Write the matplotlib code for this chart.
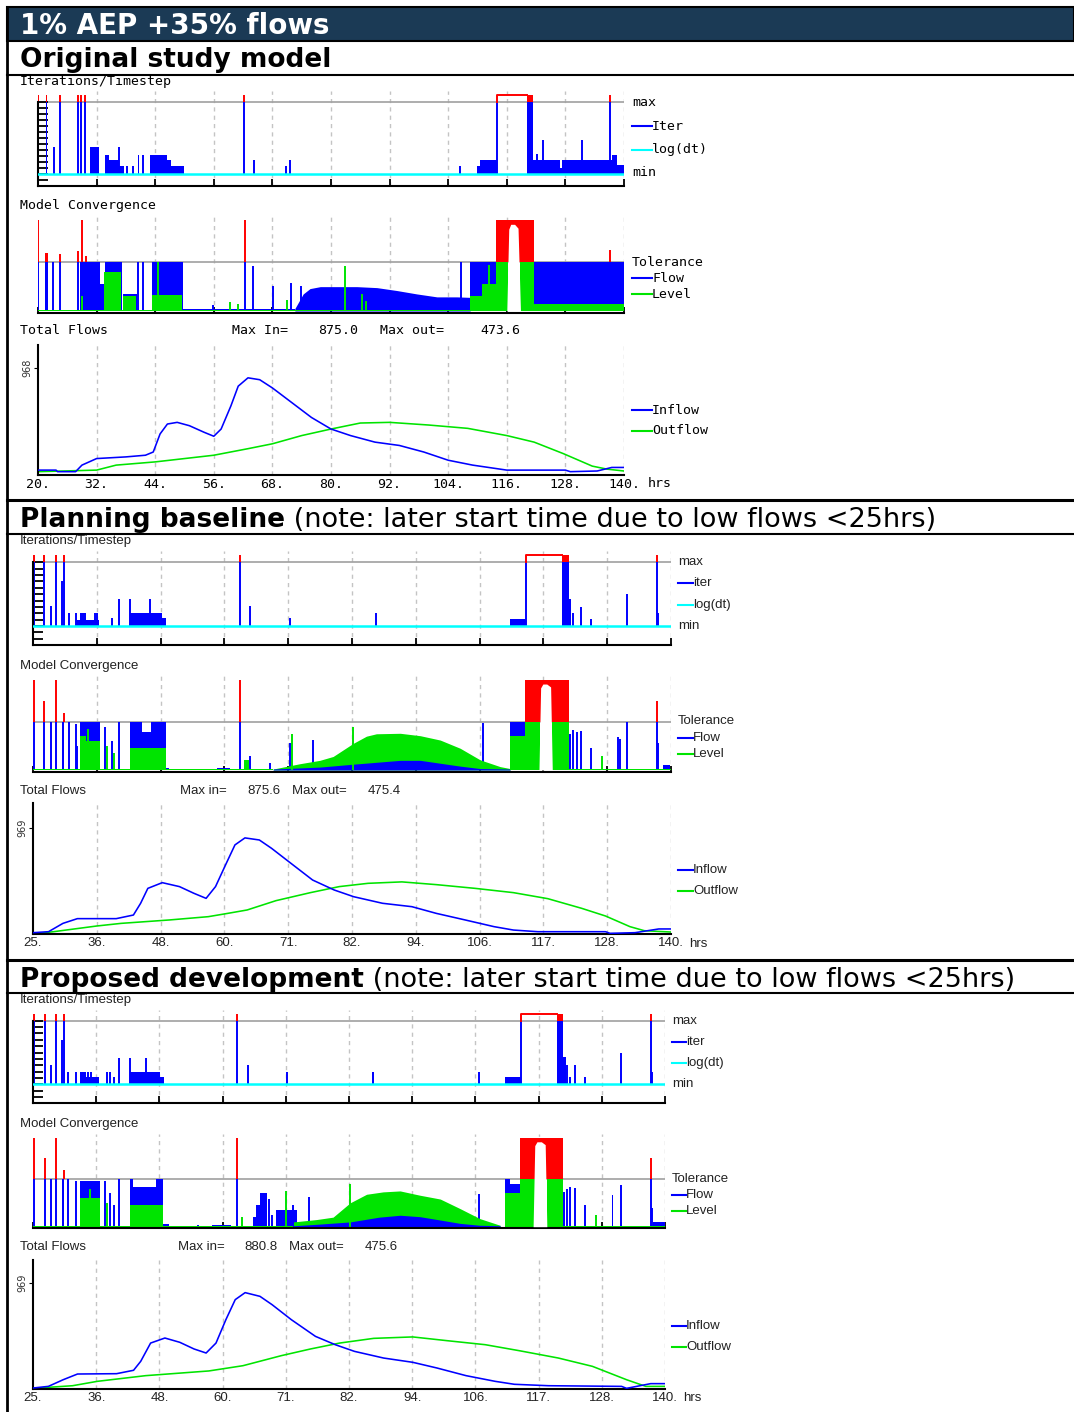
import numpy as np
import matplotlib.pyplot as plt
from matplotlib.lines import Line2D
from matplotlib.patches import Rectangle

W, H = 1074, 1412

BLUE = '#0000ff'
GREEN = '#00e400'
RED = '#ff0000'
CYAN = '#00ffff'
NAVY = '#1b3a55'
GRID = '#c4c4c4'
TOL = '#a0a0a0'

### Section 1 : original study model (hours 20-140)
s1_ticks = [20, 32, 44, 56, 68, 80, 92, 104, 116, 128, 140]
s1_labels = ['20.', '32.', '44.', '56.', '68.', '80.', '92.', '104.', '116.', '128.', '140.']
s1_max_in, s1_max_out, s1_ref = '875.0', '473.6', 968

s1_in_t = [20, 23.7, 24, 27.7, 29, 32, 38, 42, 43.6, 45, 46.5, 48.5, 51, 54, 56, 57.5, 59.5, 61, 63, 65.4,
           68, 72, 76, 80, 84, 89, 94, 99, 104, 109, 116, 128, 129, 134.5, 137.5, 140]
s1_in_v = [44, 44, 30, 30, 89, 148, 163, 178, 207, 370, 459, 474, 444, 385, 349, 414, 622, 800, 875, 858,
           784, 651, 518, 414, 355, 296, 266, 207, 133, 89, 44, 44, 30, 36, 68, 68]
s1_out_t = [20, 32, 36, 44, 56, 63, 68, 74, 80, 86, 92, 100, 108, 116, 121.6, 127.6, 133.5, 136.5, 140]
s1_out_v = [30, 44, 89, 118, 178, 237, 281, 355, 414, 468, 474, 450, 420, 355, 296, 192, 80, 53, 36]

# iterations: (start hr, end hr, fraction between min and max)
s1_iter_blue = [(20.0, 20.0, 1), (21.6, 21.9, 1), (23.3, 23.3, 0.38), (24.6, 24.6, 1), (28.2, 28.2, 1),
                (28.9, 28.9, 1), (29.7, 29.7, 1), (30.7, 32.5, 0.38), (33.7, 34.6, 0.27), (34.6, 36.5, 0.2),
                (36.5, 36.5, 0.38), (36.5, 37.6, 0.11), (38.3, 38.3, 0.11), (39.4, 39.4, 0.11),
                (40.4, 40.6, 0.27), (41.4, 41.4, 0.27), (43.0, 46.4, 0.27), (46.4, 47.3, 0.2),
                (47.3, 49.8, 0.11), (62.2, 62.2, 1), (64.2, 64.2, 0.2), (70.8, 70.8, 0.11), (71.6, 71.6, 0.2),
                (106.5, 106.5, 0.11), (109.8, 110.6, 0.11), (110.6, 114.0, 0.2), (120.1, 121.4, 1),
                (121.4, 126.9, 0.2), (122.1, 122.1, 0.28), (123.4, 123.4, 0.48), (126.9, 127.4, 0.09),
                (127.4, 137.5, 0.2), (131.5, 131.5, 0.48), (137.1, 137.1, 1), (137.5, 138.5, 0.27),
                (138.5, 139.9, 0.13)]
s1_iter_red = [(20.0, 20.0, 1.1), (21.6, 21.9, 1.1), (24.6, 24.6, 1.1), (28.2, 28.2, 1.1), (28.9, 28.9, 1.1),
               (29.7, 29.7, 1.1), (62.2, 62.2, 1.1), (120.1, 121.4, 1.1), (137.1, 137.1, 1.1)]
s1_iter_hollow = [(113.9, 120.1, 1.1)]

# convergence: (start hr, end hr, fraction of tolerance)
s1_flow = [(20.0, 20.0, 1), (21.4, 22.1, 1), (23.1, 23.1, 1), (24.5, 24.5, 1), (28.2, 28.2, 1),
           (28.6, 32.7, 1), (32.7, 34.1, 0.55), (33.7, 37.1, 1), (37.5, 40.2, 0.35), (40.5, 40.5, 1),
           (41.4, 41.4, 1), (43.3, 49.6, 1), (49.6, 72.6, 0.05), (55.9, 55.9, 0.12), (62.4, 62.4, 1),
           (64.1, 64.1, 0.93), (68.2, 68.2, 0.52), (71.8, 71.8, 0.57), (73.9, 73.9, 0.52),
           (106.6, 106.6, 1), (108.5, 113.8, 1), (121.6, 140, 1)]
s1_level = [(29.0, 29.0, 0.3), (33.5, 37.0, 0.8), (37.5, 40.0, 0.3), (43.3, 49.5, 0.33), (44.6, 44.6, 1.0),
            (20, 108.5, 0.03), (59.3, 59.3, 0.18), (61.0, 61.0, 0.15), (70.9, 70.9, 0.22), (82.9, 82.9, 0.92),
            (86.3, 86.3, 0.34), (87.1, 87.1, 0.2), (108.5, 111.0, 0.3), (111.0, 113.8, 0.55),
            (112.4, 112.4, 0.95), (113.8, 116.3, 1), (118.7, 121.6, 1), (121.6, 140, 0.15)]
s1_flow_hump_t = [72.6, 74.3, 75.7, 77.8, 81.2, 85.3, 89.4, 93.5, 97.6, 101.7, 105.8, 108.5]
s1_flow_hump_v = [0.05, 0.35, 0.46, 0.5, 0.5, 0.5, 0.48, 0.42, 0.35, 0.29, 0.29, 0.28]
s1_conv_red = [(20.0, 20.0, 1.86), (21.4, 22.1, 1.2), (24.5, 24.5, 1.17), (28.2, 28.2, 1.23), (29.0, 29.0, 1.86),
               (29.8, 29.8, 1.13), (62.4, 62.4, 1.86), (113.8, 121.6, 1.86), (137.1, 137.1, 1.25)]
s1_notch_t = [116.0, 116.4, 116.8, 117.6, 118.3, 118.8]
s1_notch_v = [0, 1.68, 1.78, 1.78, 1.7, 0]

### Section 2 : planning baseline (hours 25-140)
s23_ticks = [25, 36.5, 48, 59.5, 71, 82.5, 94, 105.5, 117, 128.5, 140]
s23_labels = ['25.', '36.', '48.', '60.', '71.', '82.', '94.', '106.', '117.', '128.', '140.']
s2_max_in, s2_max_out, s2_ref = '875.6', '475.4', 969

s2_in_t = [25, 27.8, 30.4, 33, 40, 43.1, 44.4, 45.7, 48.3, 51.4, 54, 56.2, 57.9, 59.7, 61.4, 63.2, 65.8, 68,
           71.5, 75.4, 79.3, 82.8, 88, 93.3, 97.7, 102.9, 108.1, 111.6, 116, 128.2, 129, 133.5, 137.8, 140]
s2_in_v = [12, 21, 97, 140, 140, 173, 280, 416, 468, 432, 371, 325, 432, 629, 812, 876, 857, 781,
           644, 492, 401, 340, 280, 249, 188, 128, 67, 36, 21, 21, 6, 12, 46, 46]
s2_out_t = [25, 28.7, 36.5, 40.9, 49.6, 56.6, 60.1, 63.6, 68.8, 75, 80.2, 85.4, 91.5, 97.7, 104.7, 111.6,
            117.8, 123.9, 128.2, 132.6, 135.2, 140]
s2_out_v = [0, 21, 73, 97, 128, 158, 188, 219, 304, 377, 432, 462, 475, 450, 416, 377, 322, 234, 164, 67, 30, 18]

s2_iter_blue = [(25.1, 25.1, 1), (27.0, 27.0, 1), (28.2, 28.2, 0.31), (29.1, 29.1, 1), (30.3, 30.3, 0.7),
                (30.5, 30.5, 1), (31.4, 31.4, 0.2), (32.8, 32.8, 0.2), (32.8, 33.5, 0.09), (33.5, 34.6, 0.2),
                (34.6, 36.9, 0.1), (36.1, 36.1, 0.2), (36.5, 36.5, 0.2), (39.3, 39.3, 0.12), (40.5, 40.5, 0.42),
                (42.5, 42.5, 0.42), (42.5, 48.2, 0.2), (46.0, 46.0, 0.42), (48.2, 48.9, 0.12), (62.3, 62.3, 1),
                (64.1, 64.1, 0.31), (71.3, 71.3, 0.12), (86.9, 86.9, 0.2), (111.0, 113.8, 0.11),
                (120.4, 121.6, 1), (121.6, 121.9, 0.42), (122.4, 122.4, 0.2), (123.8, 123.8, 0.3),
                (125.5, 125.5, 0.11), (132.0, 132.0, 0.51), (137.5, 137.5, 1), (137.7, 137.7, 0.2)]
s2_iter_red = [(25.1, 25.1, 1.115), (27.0, 27.0, 1.115), (29.1, 29.1, 1.115), (30.5, 30.5, 1.115),
               (62.3, 62.3, 1.115), (120.4, 121.6, 1.115), (137.5, 137.5, 1.115)]
s2_iter_hollow = [(113.8, 120.4, 1.115)]

s2_flow = [(25.1, 25.1, 1), (27.0, 27.0, 1), (28.2, 28.2, 1), (29.1, 29.1, 1), (30.3, 30.5, 1), (31.4, 31.4, 1),
           (32.8, 32.8, 0.96), (33.0, 33.0, 0.5), (33.5, 37.1, 1), (37.9, 37.9, 0.9), (39.3, 39.3, 0.6),
           (40.5, 40.5, 1), (42.5, 44.6, 1), (44.6, 46.2, 0.78), (46.2, 48.9, 1), (48.9, 49.5, 0.05),
           (55.1, 55.1, 0.03), (58.1, 60.5, 0.04), (62.3, 62.3, 1), (64.1, 64.1, 0.3), (67.7, 67.7, 0.15),
           (71.3, 71.3, 0.55), (75.5, 75.5, 0.63), (106.2, 106.2, 0.98), (111.0, 113.7, 1),
           (121.3, 121.9, 0.75), (122.4, 122.4, 0.82), (123.0, 123.0, 0.78), (123.8, 123.8, 0.8),
           (125.5, 125.5, 0.46), (130.5, 130.5, 0.68), (130.8, 130.8, 0.64), (132.0, 132.0, 1),
           (137.4, 137.4, 1), (137.7, 137.7, 0.55), (138.6, 139.9, 0.1)]
s2_level = [(33.5, 34.6, 0.7), (34.6, 37.0, 0.6), (35.0, 35.0, 0.85), (38.3, 38.3, 0.5), (39.6, 39.6, 0.35),
            (42.5, 48.9, 0.45), (25, 68.3, 0.02), (63.0, 64.0, 0.2), (71.6, 71.6, 0.75), (82.7, 82.7, 0.88),
            (111.0, 113.7, 0.7), (113.7, 116.4, 1), (118.5, 121.6, 1), (121.6, 140, 0.02), (127.5, 127.5, 0.28)]
s2_level_hump_t = [68.3, 73.1, 76.7, 79.1, 82.7, 85.1, 86.9, 91.2, 94.8, 98.4, 102.0, 105.6, 109.2, 111.0]
s2_level_hump_v = [0.02, 0.13, 0.2, 0.28, 0.55, 0.7, 0.75, 0.76, 0.71, 0.62, 0.45, 0.21, 0.07, 0.03]
s2_flow_hump_t = [68.3, 76.7, 82.7, 91.2, 94.8, 98.4, 102.0, 105.6, 111.0]
s2_flow_hump_v = [0.02, 0.06, 0.12, 0.2, 0.2, 0.14, 0.08, 0.03, 0.02]
s2_conv_red = [(25.1, 25.1, 1.86), (27.0, 27.0, 1.43), (29.1, 29.1, 1.86), (30.5, 30.5, 1.18), (62.3, 62.3, 1.86),
               (113.7, 121.6, 1.86), (137.4, 137.4, 1.43)]
s2_notch_t = [116.2, 116.5, 116.9, 117.6, 118.3, 118.6]
s2_notch_v = [0, 1.7, 1.78, 1.78, 1.72, 0]

### Section 3 : proposed development (hours 25-140)
s3_max_in, s3_max_out, s3_ref = '880.8', '475.6', 969

s3_in_t = [25, 27.8, 30.5, 33.1, 40.2, 43.3, 44.6, 46.4, 49, 51.7, 54.3, 56.5, 58.3, 60.1, 61.8, 63.6, 66.3,
           68.5, 72, 76.4, 80, 83.5, 88.8, 94.1, 98.5, 103.8, 109.1, 112.6, 118.8, 132.1, 133, 137.4, 140]
s3_in_v = [9, 24, 85, 137, 140, 171, 253, 420, 466, 427, 366, 329, 420, 634, 817, 881, 847,
           771, 634, 481, 405, 344, 283, 244, 192, 122, 70, 43, 30, 24, 6, 49, 49]
s3_out_t = [25, 32.2, 36.7, 45.5, 57, 63.2, 70.2, 75.5, 80.8, 87, 94.1, 100.3, 107.3, 113.5, 120.6, 126.8,
            133, 136.5, 140]
s3_out_v = [6, 30, 70, 122, 165, 213, 305, 366, 420, 463, 476, 442, 405, 350, 283, 207, 85, 24, 24]

s3_iter_blue = [(25.1, 25.1, 1), (27.1, 27.1, 1), (28.3, 28.3, 0.31), (29.1, 29.1, 1), (30.3, 30.3, 0.7),
                (30.6, 30.6, 1), (31.4, 31.4, 0.2), (32.8, 32.8, 0.2), (33.6, 34.6, 0.2), (34.6, 37.1, 0.12),
                (35.0, 35.0, 0.2), (35.6, 35.6, 0.2), (38.5, 38.5, 0.2), (39.0, 39.0, 0.2), (39.8, 39.8, 0.12),
                (40.7, 40.7, 0.42), (42.6, 42.6, 0.42), (42.6, 48.1, 0.2), (45.5, 45.5, 0.42),
                (48.1, 48.8, 0.12), (62.2, 62.2, 1), (64.2, 64.2, 0.31), (71.2, 71.2, 0.2), (86.6, 87.0, 0.2),
                (106.2, 106.2, 0.2), (110.9, 113.8, 0.12), (120.4, 121.5, 1), (121.5, 122.0, 0.43),
                (122.2, 122.2, 0.31), (122.7, 122.7, 0.12), (123.7, 123.7, 0.31), (125.4, 125.4, 0.12),
                (132.0, 132.0, 0.5), (137.4, 137.4, 1), (137.7, 137.7, 0.2)]
s3_iter_red = [(25.1, 25.1, 1.105), (27.1, 27.1, 1.105), (29.1, 29.1, 1.105), (30.6, 30.6, 1.105),
               (62.2, 62.2, 1.105), (120.4, 121.5, 1.105), (137.4, 137.4, 1.105)]
s3_iter_hollow = [(113.8, 120.4, 1.105)]

s3_flow = [(25.1, 25.1, 1), (27.1, 27.1, 1), (28.3, 28.3, 1), (29.1, 29.1, 1), (30.3, 30.6, 1), (31.4, 31.4, 1),
           (32.8, 32.8, 0.96), (33.6, 37.2, 0.95), (38.1, 38.1, 0.95), (39.0, 39.0, 0.7), (39.8, 39.8, 0.45),
           (40.7, 40.7, 1), (42.6, 43.2, 1), (43.2, 47.3, 0.84), (47.3, 48.7, 1), (48.7, 49.8, 0.05),
           (55.1, 55.1, 0.03), (57.5, 61.0, 0.03), (62.2, 62.2, 1), (65.1, 65.6, 0.2), (65.6, 66.3, 0.45),
           (66.3, 67.5, 0.7), (68.0, 68.0, 0.58), (68.4, 68.4, 0.25), (69.3, 73.0, 0.35), (72.4, 72.4, 0.45),
           (75.3, 75.3, 0.63), (106.2, 106.2, 0.68), (110.9, 111.8, 1), (111.8, 113.6, 0.9),
           (121.5, 121.8, 0.73), (122.1, 122.1, 0.8), (122.7, 122.7, 0.83), (123.7, 123.7, 0.82),
           (125.4, 125.4, 0.45), (130.4, 130.6, 0.67), (132.0, 132.0, 0.88), (137.4, 137.4, 1),
           (137.7, 137.7, 0.4), (137.9, 140, 0.1)]
s3_level = [(33.6, 37.2, 0.6), (35.3, 35.3, 0.8), (38.5, 38.5, 0.5), (42.6, 48.7, 0.45), (25, 72.4, 0.02),
            (63.0, 63.0, 0.2), (71.0, 71.0, 0.75), (82.7, 82.7, 0.9), (110.9, 113.6, 0.7), (113.6, 116.3, 1),
            (118.5, 121.5, 1), (121.5, 140, 0.02), (127.4, 127.4, 0.25)]
s3_level_hump_t = [72.4, 76.6, 79.6, 82.7, 85.7, 88.7, 91.8, 95.4, 99.1, 102.7, 106.3, 110.0]
s3_level_hump_v = [0.1, 0.15, 0.2, 0.5, 0.68, 0.73, 0.75, 0.66, 0.58, 0.38, 0.17, 0.03]
s3_flow_hump_t = [72.4, 76.6, 82.7, 88.0, 91.8, 95.4, 99.1, 102.7, 106.3, 110.0]
s3_flow_hump_v = [0.02, 0.05, 0.1, 0.2, 0.24, 0.21, 0.14, 0.07, 0.03, 0.02]
s3_conv_red = [(25.1, 25.1, 1.87), (27.1, 27.1, 1.44), (29.1, 29.1, 1.87), (30.6, 30.6, 1.18), (62.2, 62.2, 1.87),
               (113.6, 121.5, 1.87), (137.4, 137.4, 1.44)]
s3_notch_t = [116.0, 116.3, 116.7, 117.5, 118.2, 118.5]
s3_notch_v = [0, 1.7, 1.78, 1.78, 1.72, 0]


fig = plt.figure(figsize=(W / 100, H / 100), dpi=100)


def fx(x):
    return x / W


def fy(y):
    return 1 - y / H


def px_axes(x0, x1, top, bot, xlim, ref_a, ref_b):
    ### axes placed in pixels, y limits from two (value, pixel) references
    (va, ya), (vb, yb) = ref_a, ref_b
    k = (vb - va) / (ya - yb)
    ax = fig.add_axes([fx(x0), fy(bot), (x1 - x0) / W, (bot - top) / H])
    ax.set_xlim(xlim)
    ax.set_ylim(va - (bot - ya) * k, va + (ya - top) * k)
    for s in ax.spines.values():
        s.set_visible(False)
        s.set_linewidth(1.5)
    ax.set_xticks([])
    ax.set_yticks([])
    ax.patch.set_alpha(0)
    return ax


def draw_marks(ax, marks, color, base=0.0):
    for t0, t1, h in marks:
        if t1 > t0:
            ax.fill_between([t0, t1], base, h, color=color, lw=0, zorder=2)
        else:
            ax.vlines(t0, base, h, color=color, lw=1.4, zorder=2)


def grid(ax, ticks):
    for t in ticks[1:]:
        ax.axvline(t, color=GRID, lw=1, ls=(0, (3, 3)), zorder=0)


def iter_panel(x0, x1, top, y_max, y_min, y_floor, xlim, ticks, ladder, blue, red, hollow):
    ax = px_axes(x0, x1, top, y_floor, xlim, (0, y_min), (1, y_max))
    floor = ax.get_ylim()[0]
    grid(ax, ticks)
    ax.axhline(1, color=TOL, lw=1.2, zorder=1)
    draw_marks(ax, blue, BLUE)
    for t0, t1, v in hollow:
        ax.plot([t0, t0], [0, 1], color=BLUE, lw=1.4, zorder=2)
        ax.plot([t0, t0, t1], [1, v, v], color=RED, lw=1.4, zorder=2)
    draw_marks(ax, red, RED, base=1)
    ax.axhline(0, color=CYAN, lw=1.8, zorder=3)
    ax.spines['bottom'].set_visible(True)
    ax.spines['left'].set_visible(True)
    ax.spines['left'].set_bounds(floor, 1)
    ax.set_xticks(ticks)
    ax.set_yticks(ladder)
    ax.tick_params(direction='in', labelbottom=False, labelleft=False, width=1.3)
    ax.tick_params(axis='x', length=5)
    ax.tick_params(axis='y', length=7)


def conv_panel(x0, x1, top, y_tol, y_zero, xlim, ticks, flow, level, humps, red, notch_t, notch_v):
    ax = px_axes(x0, x1, top, y_zero + 1.5, xlim, (0, y_zero), (1, y_tol))
    grid(ax, ticks)
    ax.axhline(1, color=TOL, lw=1.2, zorder=1)
    draw_marks(ax, flow, BLUE)
    for t, v, c in sorted(humps, key=lambda h: -max(h[1])):
        ax.fill_between(t, 0, v, color=c, lw=0, zorder=2)
    draw_marks(ax, level, GREEN)
    draw_marks(ax, red, RED, base=1)
    ax.fill_between(notch_t, 0, notch_v, color='white', lw=0, zorder=3)
    ax.spines['bottom'].set_visible(True)
    ax.set_xticks(ticks)
    ax.tick_params(direction='in', labelbottom=False, length=4, width=1.3)


def flow_panel(x0, x1, top, y_zero, y_ref, ref, xlim, ticks, labels, t_in, v_in, t_out, v_out, font):
    ax = px_axes(x0, x1, top, y_zero, xlim, (0, y_zero), (ref, y_ref))
    grid(ax, ticks)
    ax.plot(t_in, v_in, color=BLUE, lw=1.15, zorder=3)
    ax.plot(t_out, v_out, color=GREEN, lw=1.15, zorder=2)
    ax.spines['bottom'].set_visible(True)
    ax.spines['left'].set_visible(True)
    ax.set_xticks(ticks, labels, **font)
    ax.set_yticks([ref], [str(ref)], rotation=90, fontsize=7, va='center', color='#333333')
    ax.tick_params(axis='x', length=0, pad=2)
    ax.tick_params(axis='y', length=3, pad=1)


def legend(x, line_len, items, font):
    for y, label, color in items:
        tx = x
        if color:
            fig.add_artist(Line2D([fx(x), fx(x + line_len)], [fy(y)] * 2, color=color, lw=1.5))
            tx = x + line_len
        fig.text(fx(tx), fy(y), label, va='center', **font)


def labels_row(items, font):
    for x, y, s in items:
        fig.text(fx(x), fy(y), s, va='center', **font)


### Page frame, header and section titles
fig.add_artist(Rectangle((fx(7), fy(41)), fx(1074) - fx(7), fy(7) - fy(41), facecolor=NAVY,
                         edgecolor='black', lw=1.5, transform=fig.transFigure))
fig.add_artist(Line2D([fx(7), fx(7)], [fy(7), 0], color='black', lw=2))
for y, lw in [(75, 1.5), (500, 2.2), (534, 1.5), (960, 2.2), (993, 1.5)]:
    fig.add_artist(Line2D([fx(7), 1], [fy(y)] * 2, color='black', lw=lw))

fig.text(fx(20), fy(34), '1% AEP +35% flows', color='white', fontsize=20, fontweight='bold', va='baseline')
fig.text(fx(20), fy(67), 'Original study model', fontsize=19, fontweight='bold', va='baseline')

renderer = fig.canvas.get_renderer()
for y, bold, note in [(527, 'Planning baseline', ' (note: later start time due to low flows <25hrs)'),
                      (987, 'Proposed development', ' (note: later start time due to low flows <25hrs)')]:
    t = fig.text(fx(20), fy(y), bold, fontsize=19, fontweight='bold', va='baseline')
    bb = t.get_window_extent(renderer)
    fig.text(bb.x1 / W, fy(y), note, fontsize=19.5, va='baseline')

F1 = dict(family='DejaVu Sans Mono', fontsize=9.5, color='black')
F2 = dict(family='Liberation Sans', fontsize=9.5, color='#222222')

### Section 1
iter_panel(38, 624, 91, 102.5, 174, 186, (20, 140), s1_ticks, np.arange(-1, 13) / 12,
           s1_iter_blue, s1_iter_red, s1_iter_hollow)
conv_panel(38, 624, 216, 262.3, 311, (20, 140), s1_ticks, s1_flow, s1_level,
           [(s1_flow_hump_t, s1_flow_hump_v, BLUE)], s1_conv_red, s1_notch_t, s1_notch_v)
flow_panel(38, 624, 345, 475, 367.5, s1_ref, (20, 140), s1_ticks, s1_labels,
           s1_in_t, s1_in_v, s1_out_t, s1_out_v, F1)
labels_row([(20, 82, 'Iterations/Timestep'), (20, 206, 'Model Convergence'), (20, 331, 'Total Flows'),
            (232, 331, 'Max In='), (318, 331, s1_max_in), (380, 331, 'Max out='), (480, 331, s1_max_out),
            (648, 484, 'hrs')], F1)
legend(632, 20, [(102, 'max', None), (126, 'Iter', BLUE), (150, 'log(dt)', CYAN), (173, 'min', None)], F1)
legend(632, 20, [(262, 'Tolerance', None), (278, 'Flow', BLUE), (294, 'Level', GREEN)], F1)
legend(632, 20, [(410, 'Inflow', BLUE), (431, 'Outflow', GREEN)], F1)

### Section 2
iter_panel(33, 671, 551, 562.3, 626, 645, (25, 140), s23_ticks, np.arange(-2, 11) / 10,
           s2_iter_blue, s2_iter_red, s2_iter_hollow)
conv_panel(33, 671, 676, 721.7, 770, (25, 140), s23_ticks, s2_flow, s2_level,
           [(s2_level_hump_t, s2_level_hump_v, GREEN), (s2_flow_hump_t, s2_flow_hump_v, BLUE)],
           s2_conv_red, s2_notch_t, s2_notch_v)
flow_panel(33, 671, 803, 934, 827.7, s2_ref, (25, 140), s23_ticks, s23_labels,
           s2_in_t, s2_in_v, s2_out_t, s2_out_v, F2)
labels_row([(20, 541, 'Iterations/Timestep'), (20, 666, 'Model Convergence'), (20, 791, 'Total Flows'),
            (180, 791, 'Max in='), (247, 791, s2_max_in), (292, 791, 'Max out='), (368, 791, s2_max_out),
            (689, 944, 'hrs')], F2)
legend(678, 15, [(562, 'max', None), (583, 'iter', BLUE), (605, 'log(dt)', CYAN), (626, 'min', None)], F2)
legend(678, 15, [(721, 'Tolerance', None), (738, 'Flow', BLUE), (754, 'Level', GREEN)], F2)
legend(678, 15, [(870, 'Inflow', BLUE), (891, 'Outflow', GREEN)], F2)

### Section 3
iter_panel(33, 665, 1010, 1020.7, 1084.3, 1103.3, (25, 140), s23_ticks, np.arange(-2, 11) / 10,
           s3_iter_blue, s3_iter_red, s3_iter_hollow)
conv_panel(33, 665, 1134, 1179, 1226.7, (25, 140), s23_ticks, s3_flow, s3_level,
           [(s3_level_hump_t, s3_level_hump_v, GREEN), (s3_flow_hump_t, s3_flow_hump_v, BLUE)],
           s3_conv_red, s3_notch_t, s3_notch_v)
flow_panel(33, 665, 1260, 1389, 1283, s3_ref, (25, 140), s23_ticks, s23_labels,
           s3_in_t, s3_in_v, s3_out_t, s3_out_v, F2)
labels_row([(20, 1000, 'Iterations/Timestep'), (20, 1124, 'Model Convergence'), (20, 1247, 'Total Flows'),
            (178, 1247, 'Max in='), (244, 1247, s3_max_in), (289, 1247, 'Max out='), (365, 1247, s3_max_out),
            (683, 1398, 'hrs')], F2)
legend(672, 14, [(1021, 'max', None), (1042, 'iter', BLUE), (1063, 'log(dt)', CYAN), (1084, 'min', None)], F2)
legend(672, 14, [(1179, 'Tolerance', None), (1195, 'Flow', BLUE), (1211, 'Level', GREEN)], F2)
legend(672, 14, [(1326, 'Inflow', BLUE), (1347, 'Outflow', GREEN)], F2)

fig.savefig('out.png', dpi=100)
